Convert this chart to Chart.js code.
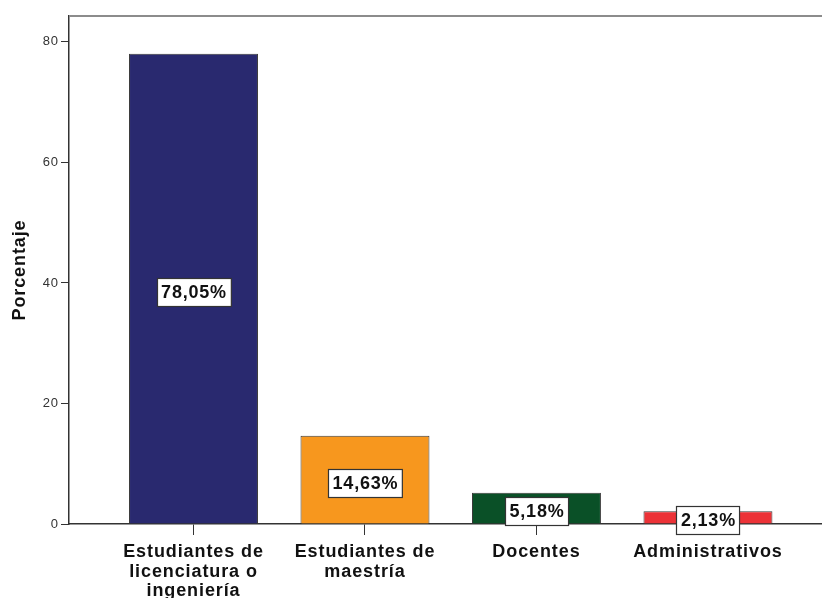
<!DOCTYPE html>
<html><head><meta charset="utf-8">
<script src="https://cdn.jsdelivr.net/npm/chart.js@4.4.0/dist/chart.umd.min.js"></script>
<style>html,body{margin:0;padding:0;background:#fff}</style>
</head><body>
<canvas id="c" width="822" height="598"></canvas>
<script>
const categories = [["Estudiantes de","licenciatura o","ingeniería"],["Estudiantes de","maestría"],["Docentes"],["Administrativos"]];
const porcentajes = [78.05, 14.63, 5.18, 2.13];
const barColors = ['#29296f','#f7971e','#0a5027','#ec3237'];
const yTickStep = 20;
const axisTitle = 'Porcentaje';

const FONT = '"Liberation Sans", Arial, sans-serif';
const SPACING = '0.9px';

const spacingPlugin = {
  id:'spacing',
  beforeUpdate(chart){ chart.ctx.letterSpacing = SPACING; },
  beforeLayout(chart){ chart.ctx.letterSpacing = SPACING; },
  beforeDraw(chart){ chart.ctx.letterSpacing = SPACING; }
};

const frameLinePlugin = {
  id:'frameLine',
  afterDraw(chart){
    const {ctx, chartArea} = chart;
    ctx.save();
    ctx.strokeStyle = '#8c8c8c';
    ctx.lineWidth = 2;
    ctx.beginPath();
    ctx.moveTo(chartArea.left, chartArea.top);
    ctx.lineTo(chartArea.right, chartArea.top);
    ctx.stroke();
    ctx.restore();
  }
};

const boxLabelPlugin = {
  id:'boxLabels',
  afterDraw(chart){
    const ctx = chart.ctx;
    const meta = chart.getDatasetMeta(0);
    ctx.save();
    ctx.font = 'bold 18px ' + FONT;
    ctx.letterSpacing = '0.8px';
    ctx.textAlign = 'center';
    ctx.textBaseline = 'middle';
    meta.data.forEach((bar, i) => {
      const p = bar.getProps(['x','y','base'], true);
      const cy = (p.y + p.base) / 2 + 3;
      const text = porcentajes[i].toFixed(2).replace('.', ',') + '%';
      const w = ctx.measureText(text).width + 8;
      const h = 28;
      const x0 = Math.round(p.x - w/2) + 0.5, y0 = Math.round(cy - h/2) + 0.5;
      ctx.fillStyle = '#ffffff';
      ctx.fillRect(x0, y0, w, h);
      ctx.strokeStyle = '#333333';
      ctx.lineWidth = 1.2;
      ctx.strokeRect(x0, y0, w, h);
      ctx.fillStyle = '#111111';
      ctx.fillText(text, p.x + 0.5, cy + 1);
    });
    ctx.restore();
  }
};

new Chart(document.getElementById('c'), {
  type:'bar',
  data:{
    datasets:[{
      data: porcentajes.map((v,i)=>({x:i, y:v})),
      backgroundColor: barColors,
      borderColor:'#3a3a3a',
      borderWidth:1,
      categoryPercentage:1,
      barPercentage:0.752
    }]
  },
  options:{
    responsive:false,
    animation:false,
    layout:{padding:{top:16,right:0,bottom:0,left:0}},
    plugins:{legend:{display:false}, tooltip:{enabled:false}},
    scales:{
      x:{
        type:'linear', min:-0.726, max:3.665, offset:false,
        grid:{offset:false, drawOnChartArea:false, drawTicks:true, tickLength:11, color:'#333', tickWidth:1},
        border:{color:'#333', width:1.5},
        ticks:{stepSize:1, includeBounds:false, autoSkip:false, maxRotation:0, minRotation:0, padding:7,
          color:'#111', font:{family:FONT, size:18, weight:'bold', lineHeight:1.1},
          callback:(v)=> (Number.isInteger(v) && categories[v]) ? categories[v] : ''},
        afterFit:(s)=>{ s.height = 74; }
      },
      y:{
        min:0, max:84.3,
        grid:{drawOnChartArea:false, tickLength:8, color:'#333', tickWidth:1},
        border:{color:'#333', width:1.5},
        ticks:{stepSize:yTickStep, includeBounds:false, padding:2, color:'#333', font:{family:FONT, size:13}},
        title:{display:true, text:axisTitle, color:'#111', font:{family:FONT, size:18, weight:'bold'}, padding:{top:9,bottom:0}},
        afterFit:(s)=>{ s.width = 69; }
      }
    }
  },
  plugins:[spacingPlugin, frameLinePlugin, boxLabelPlugin]
});
</script>
</body></html>
